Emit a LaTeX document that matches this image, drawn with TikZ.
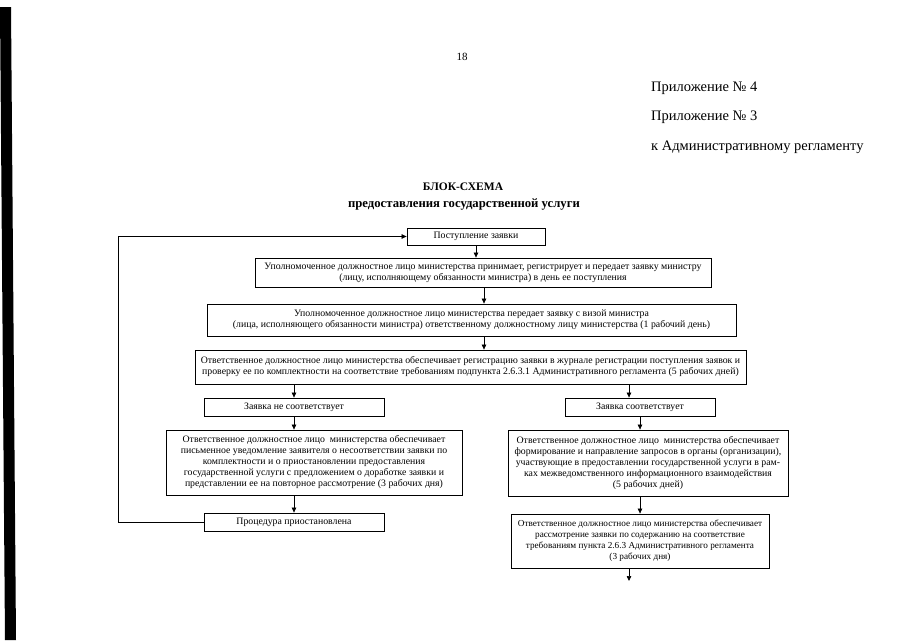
\documentclass[tikz,border=0pt]{standalone}
\usepackage{fontspec}
\setmainfont{Liberation Serif}
\usetikzlibrary{arrows.meta}
\begin{document}
\begin{tikzpicture}[x=1pt,y=-1pt,
 box/.style={draw, line width=0.8pt, inner sep=1pt, align=center, font=\fontsize{9.8}{11}\selectfont},
 arr/.style={-{Triangle[length=5pt,width=4.5pt]}, line width=0.7pt},
 hdr/.style={anchor=west, font=\fontsize{14.5}{16}\selectfont, inner sep=0pt}]
\useasboundingbox (0,0) rectangle (905,640);
\fill (0,7) -- (11,7) -- (16,640) -- (5,640) -- cycle;
\node[font=\fontsize{11}{13}\selectfont] (pg) at (462,57) {18};
\node[hdr] (h1) at (651,88) {Приложение № 4};
\node[hdr] (h2) at (651,117) {Приложение № 3};
\node[hdr] (h3) at (651,147) {к Административному регламенту};
\node[font=\bfseries\fontsize{11.5}{14}\selectfont] (t1) at (463,187) {БЛОК-СХЕМА};
\node[font=\bfseries\fontsize{12.7}{14}\selectfont] (t2) at (464,204) {предоставления государственной услуги};

\node[box, minimum width=138pt, minimum height=17pt] (b1) at (476,236.5) {Поступление заявки};
\node[box, minimum width=456pt, minimum height=29pt] (b2) at (483,272.5) {Уполномоченное должностное лицо министерства принимает, регистрирует и передает заявку министру\\(лицу, исполняющему обязанности министра) в день ее поступления};
\node[box, minimum width=529pt, minimum height=32pt] (b3) at (471.5,320) {Уполномоченное должностное лицо министерства передает заявку с визой министра\\(лица, исполняющего обязанности министра) ответственному должностному лицу министерства (1 рабочий день)};
\node[box, minimum width=551pt, minimum height=34pt] (b4) at (470.5,367) {Ответственное должностное лицо министерства обеспечивает регистрацию заявки в журнале регистрации поступления заявок и\\проверку ее по комплектности на соответствие требованиям подпункта 2.6.3.1 Административного регламента (5 рабочих дней)};
\node[box, minimum width=180pt, minimum height=18pt] (b5l) at (294,407) {Заявка не соответствует};
\node[box, minimum width=150pt, minimum height=18pt] (b5r) at (640,407) {Заявка соответствует};
\node[box, minimum width=296pt, minimum height=65pt] (b6l) at (314,462.5) {Ответственное должностное лицо \ министерства обеспечивает\\письменное уведомление заявителя о несоответствии заявки по\\комплектности и о приостановлении предоставления\\государственной услуги с предложением о доработке заявки и\\представлении ее на повторное рассмотрение (3 рабочих дня)};
\node[box, minimum width=280pt, minimum height=66pt] (b6r) at (648,463) {Ответственное должностное лицо \ министерства обеспечивает\\формирование и направление запросов в органы (организации),\\участвующие в предоставлении государственной услуги в рам-\\ках межведомственного информационного взаимодействия\\(5 рабочих дней)};
\node[box, minimum width=180pt, minimum height=18pt] (b7l) at (294,522) {Процедура приостановлена};
\node[box, minimum width=258pt, minimum height=54pt, font=\fontsize{9.2}{11}\selectfont] (b7r) at (640,541) {Ответственное должностное лицо министерства обеспечивает\\рассмотрение заявки по содержанию на соответствие\\требованиям пункта 2.6.3 Административного регламента\\(3 рабочих дня)};
\coordinate (end) at (629,581);

\draw[arr] (b1.south) -- (b1.south |- b2.north);
\draw[arr] (b2.south -| 484,0) -- (b3.north -| 484,0);
\draw[arr] (b3.south -| 484,0) -- (b4.north -| 484,0);
\draw[arr] (b4.south -| b5l.north) -- (b5l.north);
\draw[arr] (b4.south -| 629,0) -- (b5r.north -| 629,0);
\draw[arr] (b5l.south) -- (b6l.north -| b5l.south);
\draw[arr] (b5r.south) -- (b6r.north -| b5r.south);
\draw[arr] (b6l.south -| b7l.north) -- (b7l.north);
\draw[arr] (b6r.south -| b7r.north) -- (b7r.north);
\draw[arr] (b7r.south -| end) -- (end);
\draw[arr] (b7l.west) -- (118,522) -- (118,236.5) -- (b1.west);
\end{tikzpicture}
\end{document}
